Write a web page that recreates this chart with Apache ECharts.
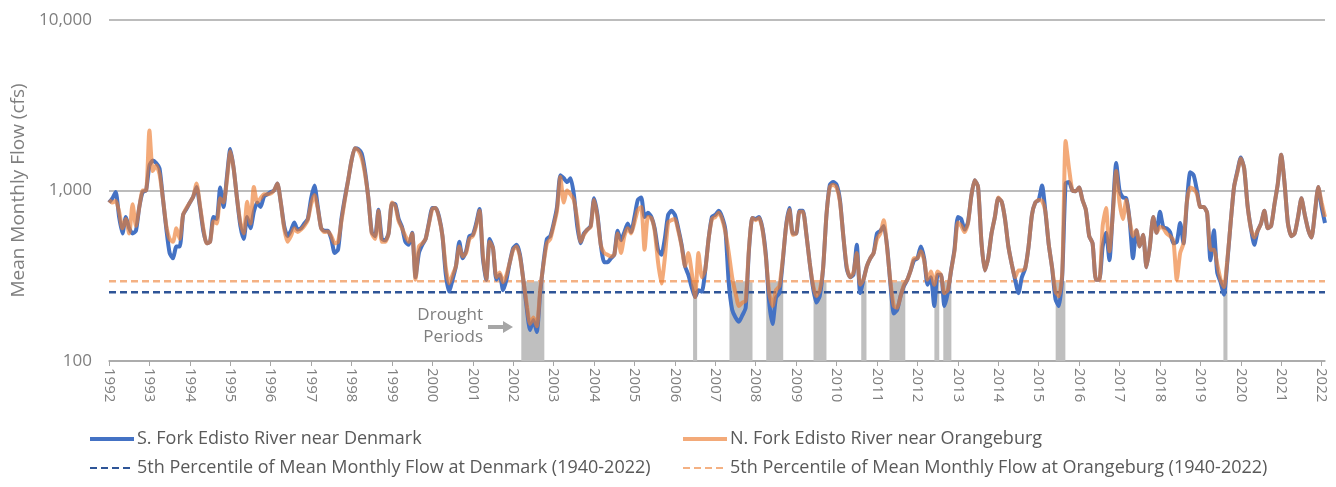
<!DOCTYPE html>
<html lang="en">
<head>
<meta charset="UTF-8">
<title>Edisto River mean monthly flow</title>
<script src="https://cdn.jsdelivr.net/npm/echarts@6/dist/echarts.min.js"></script>
<style>
  html,body{margin:0;height:100%;background:#fff;}
  #main{width:1336px;height:487px;}
</style>
</head>
<body>
<div id="main"></div>
<script>
// monthly series, first value = Jan 1992
var startYear = 1992;

// S. Fork Edisto River near Denmark (cfs)
var denmark = [
  850,900,980,700,560,700,600,560,580,800,980,1000,        // 1992
  1400,1500,1450,1350,900,600,430,400,470,470,720,780,     // 1993
  850,920,1050,800,580,490,500,700,680,1040,800,1200,      // 1994
  1750,1350,900,620,520,700,600,750,850,800,920,950,       // 1995
  980,1000,1100,850,620,540,580,650,590,600,640,680,       // 1996
  900,1070,800,600,580,580,520,430,450,680,900,1150,       // 1997
  1500,1770,1750,1650,1300,900,570,540,770,520,510,560,    // 1998
  840,830,680,610,500,480,565,310,430,480,520,650,         // 1999
  790,790,700,540,320,255,300,360,500,400,440,540,         // 2000
  550,640,780,400,300,520,460,300,320,260,300,380,         // 2001
  460,480,420,300,205,152,174,148,250,380,520,540,         // 2002
  640,800,1230,1180,1120,1180,950,620,490,560,590,620,     // 2003
  900,720,480,380,380,400,420,580,510,570,640,570,         // 2004
  700,880,910,700,740,700,600,450,420,520,720,760,         // 2005
  720,600,480,360,320,270,237,260,255,340,520,700,         // 2006
  720,760,700,585,285,200,180,170,185,205,450,690,         // 2007
  680,700,600,420,220,165,235,250,380,620,790,560,         // 2008
  560,760,760,560,380,270,220,240,350,720,1080,1120,       // 2009
  1080,880,540,350,310,320,480,250,300,360,400,430,        // 2010
  560,580,620,470,280,190,200,240,275,300,340,390,         // 2011
  400,470,400,280,310,210,320,320,210,250,340,450,         // 2012
  700,680,590,650,930,1150,1050,500,340,400,560,700,       // 2013
  900,860,680,470,370,300,250,310,350,470,720,850,         // 2014
  880,1070,750,480,350,230,210,320,1100,1120,1000,990,     // 2015
  1040,880,770,540,490,300,300,470,565,390,750,1450,       // 2016
  1000,910,900,670,400,585,470,550,355,470,700,565,        // 2017
  750,610,600,570,490,500,645,490,860,1280,1230,1000,      // 2018
  800,800,740,390,585,330,290,245,380,650,1050,1300,       // 2019
  1560,1350,820,600,480,580,640,760,600,620,830,1100,      // 2020
  1620,1100,640,540,560,700,900,720,590,530,740,1050,      // 2021
  800,645                                                  // 2022
];

// N. Fork Edisto River near Orangeburg (cfs)
var orangeburg = [
  880,850,870,750,600,680,560,830,620,800,1000,1000,
  2250,1300,1400,1250,900,620,520,500,600,520,720,790,
  850,920,1100,820,600,490,500,660,640,900,850,1150,
  1700,1350,900,650,560,860,640,1050,850,900,950,950,
  960,1000,1100,850,600,500,540,600,570,590,620,670,
  830,940,780,600,570,575,540,490,500,660,880,1150,
  1500,1770,1720,1550,1250,900,560,520,760,500,500,560,
  850,810,660,600,540,500,560,300,470,490,520,640,
  780,790,690,540,350,285,320,360,470,410,430,520,
  540,620,760,420,300,500,460,310,330,290,320,380,
  450,470,410,300,215,165,180,160,260,370,490,520,
  620,760,1200,850,1000,950,880,680,500,550,590,610,
  880,700,480,430,420,410,420,560,430,540,600,560,
  650,770,800,450,700,690,580,380,285,400,650,670,
  680,580,470,360,430,330,237,430,310,340,520,680,
  700,740,680,570,430,310,250,210,220,225,460,690,
  670,690,590,410,250,210,260,275,390,610,770,550,
  560,750,750,560,380,280,240,260,350,720,1050,1080,
  1040,860,540,360,310,330,430,280,300,360,400,430,
  520,560,670,460,290,210,205,240,280,300,340,400,
  400,440,390,300,335,280,335,320,250,260,340,440,
  650,620,570,640,930,1150,1050,500,340,400,560,700,
  910,860,680,470,370,310,340,340,350,470,720,850,
  880,870,750,480,350,255,240,330,1950,1350,1000,990,
  1040,880,770,540,490,300,300,620,790,440,720,1300,
  850,680,880,670,540,585,470,550,355,470,700,565,
  610,600,560,540,510,300,430,490,860,1040,1020,950,
  800,800,740,450,450,370,300,272,390,650,1050,1280,
  1540,1350,820,600,530,580,640,760,600,620,830,1100,
  1620,1100,640,540,560,700,900,720,590,530,740,1050,
  850,700
];

// 5th percentile of mean monthly flow, 1940-2022
var denmarkP5 = 253;
var orangeburgP5 = 294;

// drought periods (decimal years)
var droughtPeriods = [
  [2002.2, 2002.77], [2006.45, 2006.55], [2007.35, 2007.92], [2008.26, 2008.68],
  [2009.43, 2009.75], [2010.61, 2010.74], [2011.31, 2011.70], [2012.42, 2012.54],
  [2012.64, 2012.84], [2015.42, 2015.66], [2019.57, 2019.67]
];

var years = [];
for (var y = 1992; y <= 2022; y++) years.push(y);

var names = {
  den: 'S. Fork Edisto River near Denmark',
  ora: 'N. Fork Edisto River near Orangeburg',
  denP: '5th Percentile of Mean Monthly Flow at Denmark (1940-2022)',
  oraP: '5th Percentile of Mean Monthly Flow at Orangeburg (1940-2022)'
};

function toPoints(arr) {
  return arr.map(function (v, i) { return [startYear + i / 12, v]; });
}
var lastX = startYear + (denmark.length - 1) / 12;

var font = 'Open Sans';
var legendBase = {
  top: 424, orient: 'vertical', itemGap: 9, itemWidth: 44, itemHeight: 18,
  selectedMode: false, itemStyle: { opacity: 0 },
  textStyle: { color: '#595959', fontSize: 18, lineHeight: 20, fontFamily: font, padding: [0, 0, 0, -2] }
};
var myChart = echarts.init(document.getElementById('main'));
var option = {
  animation: false,
  textStyle: { fontFamily: font },
  grid: { left: 109, right: 11, top: 20, bottom: 126 },
  legend: [
    Object.assign({ left: 83, data: [{ name: names.den, lineStyle: { width: 4 } }, names.denP] }, legendBase),
    Object.assign({ left: 676, data: [{ name: names.ora, lineStyle: { width: 4 } }, names.oraP] }, legendBase)
  ],
  xAxis: {
    type: 'value', min: startYear, max: lastX,
    axisLine: { lineStyle: { color: '#A6A6A6', width: 1.5 } },
    axisTick: { customValues: years, length: 5, lineStyle: { color: '#A6A6A6' } },
    axisLabel: {
      customValues: years, rotate: -90, color: '#7F7F7F', fontSize: 15, margin: 7,
      formatter: function (v) { return String(v); }
    },
    splitLine: { show: false }
  },
  yAxis: {
    type: 'log', logBase: 10, min: 100, max: 10000,
    name: 'Mean Monthly Flow (cfs)', nameLocation: 'middle', nameGap: 80,
    nameTextStyle: { color: '#7F7F7F', fontSize: 19 },
    axisLine: { show: false }, axisTick: { show: false },
    axisLabel: {
      color: '#7F7F7F', fontSize: 17, margin: 17,
      formatter: function (v) { return v.toLocaleString('en-US'); }
    },
    splitLine: { lineStyle: { color: '#A6A6A6', width: 1.5 } }
  },
  graphic: [
    { type: 'text', right: 1336 - 483, top: 307, style: { text: 'Drought', fill: '#7F7F7F', font: '17px "Open Sans"' } },
    { type: 'text', right: 1336 - 483, top: 329, style: { text: 'Periods', fill: '#7F7F7F', font: '17px "Open Sans"' } },
    { type: 'polygon', shape: { points: [[488,325],[503,325],[503,321],[513,327],[503,333],[503,329],[488,329]] },
      style: { fill: '#A6A6A6' } }
  ],
  series: [{
    name: 'drought', type: 'line', data: [], z: 1, silent: true,
    markArea: {
      silent: true,
      itemStyle: { color: '#BFBFBF' },
      data: droughtPeriods.map(function (p) {
        return [{ xAxis: p[0], yAxis: 100 }, { xAxis: p[1], yAxis: orangeburgP5 }];
      })
    }
  }, {
    name: names.denP, type: 'line', symbol: 'none', z: 2,
    data: [[startYear, denmarkP5], [lastX, denmarkP5]],
    lineStyle: { color: '#2F5597', width: 2.5, type: [7, 4] }, itemStyle: { color: '#2F5597' }
  }, {
    name: names.oraP, type: 'line', symbol: 'none', z: 2,
    data: [[startYear, orangeburgP5], [lastX, orangeburgP5]],
    lineStyle: { color: '#F4B183', width: 2.5, type: [7, 4] }, itemStyle: { color: '#F4B183' }
  }, {
    name: names.den, type: 'line', symbol: 'none', z: 3, smooth: 0.2,
    data: toPoints(denmark),
    lineStyle: { color: '#4472C4', width: 4 }, itemStyle: { color: '#4472C4' }
  }, {
    name: names.ora, type: 'line', symbol: 'none', z: 4, smooth: 0.2,
    data: toPoints(orangeburg),
    lineStyle: { color: 'rgba(237,125,49,0.65)', width: 4 }, itemStyle: { color: 'rgba(237,125,49,0.65)' }
  }]
};
myChart.setOption(option);
</script>
</body>
</html>
